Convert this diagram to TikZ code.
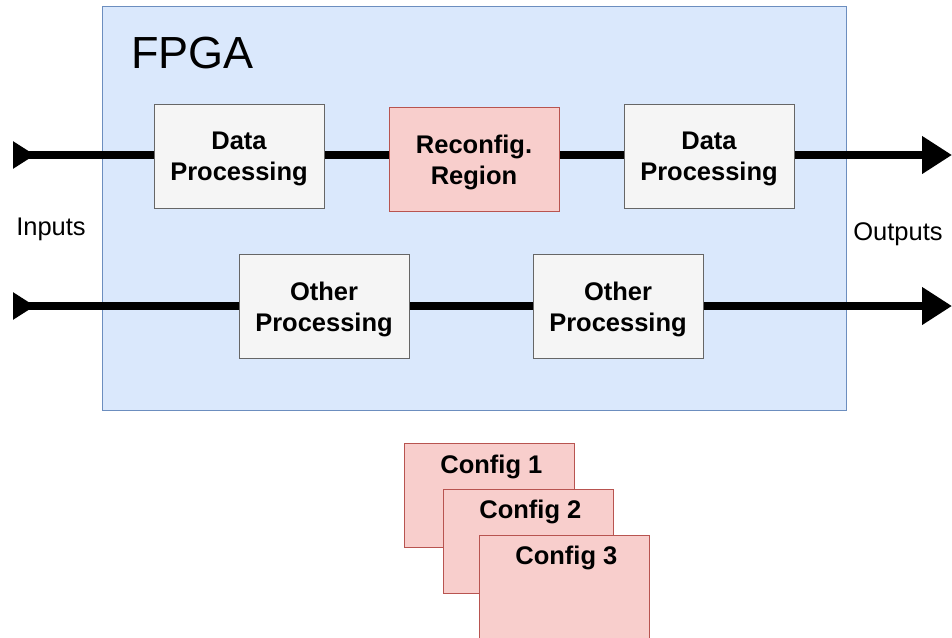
\documentclass[tikz,border=0pt]{standalone}
\usepackage{fontspec}
\setmainfont{Liberation Sans}
\usetikzlibrary{arrows.meta}
\definecolor{fpgafill}{HTML}{DAE8FC}
\definecolor{fpgaline}{HTML}{6C8EBF}
\definecolor{grayfill}{HTML}{F5F5F5}
\definecolor{grayline}{HTML}{666666}
\definecolor{redfill}{HTML}{F8CECC}
\definecolor{redline}{HTML}{B85450}
\tikzset{
  procbox/.style={draw=grayline, fill=grayfill, line width=0.8pt, minimum width=170pt, minimum height=104pt, inner sep=0pt},
  recbox/.style={procbox, draw=redline, fill=redfill},
  boxtext/.style={font=\fontsize{25.5}{31}\selectfont\bfseries, align=center, inner sep=0pt, yshift=-3pt},
  cfgbox/.style={draw=redline, fill=redfill, line width=0.8pt, minimum width=170pt, minimum height=104pt, inner sep=0pt},
  cfgtext/.style={font=\fontsize{25.5}{31}\selectfont\bfseries, inner sep=0pt},
  flow/.style={line width=8pt, {Triangle[reversed,length=22pt,width=26pt]}-{Triangle[length=30pt,width=36pt]}},
  side/.style={font=\fontsize{25.5}{31}\selectfont, inner sep=0pt}
}
\begin{document}
\begin{tikzpicture}[x=1pt,y=-1pt]
\useasboundingbox (0,0) rectangle (952,637);
% FPGA outline
\node[draw=fpgaline, fill=fpgafill, line width=0.8pt, minimum width=744pt, minimum height=404pt, inner sep=0pt, anchor=north west] (fpga) at (102,6) {};
\node[font=\fontsize{45}{50}\selectfont, anchor=base west, inner sep=0pt] (fpgalabel) at (131,68) {FPGA};
% signal endpoints
\coordinate (in1) at (13,155);
\coordinate (out1) at (952,155);
\coordinate (in2) at (13,306);
\coordinate (out2) at (952,306);
% flows
\draw[flow] (in1) -- (out1);
\draw[flow] (in2) -- (out2);
% blocks
\node[procbox] (dp1) at (239,156) {};
\node[boxtext] (dp1t) at (dp1) {Data\\Processing};
\node[recbox] (rr) at (474,159) {};
\node[boxtext] (rrt) at (rr) {Reconfig.\\Region};
\node[procbox] (dp2) at (709,156) {};
\node[boxtext] (dp2t) at (dp2) {Data\\Processing};
\node[procbox] (op1) at (324,306) {};
\node[boxtext] (op1t) at (op1) {Other\\Processing};
\node[procbox] (op2) at (618,306) {};
\node[boxtext] (op2t) at (op2) {Other\\Processing};
% side labels
\node[side] (inputs) at (51,229) {Inputs};
\node[side] (outputs) at (898,234) {Outputs};
% stacked configurations
\node[cfgbox, anchor=north west] (c1) at (404,443) {};
\node[cfgtext] (c1label) at ([xshift=2pt,yshift=-24pt]c1.north) {Config 1};
\node[cfgbox, anchor=north west] (c2) at (443,489) {};
\node[cfgtext] (c2label) at ([xshift=2pt,yshift=-23pt]c2.north) {Config 2};
\node[cfgbox, anchor=north west] (c3) at (479,535) {};
\node[cfgtext] (c3label) at ([xshift=2pt,yshift=-23pt]c3.north) {Config 3};
\end{tikzpicture}
\end{document}
